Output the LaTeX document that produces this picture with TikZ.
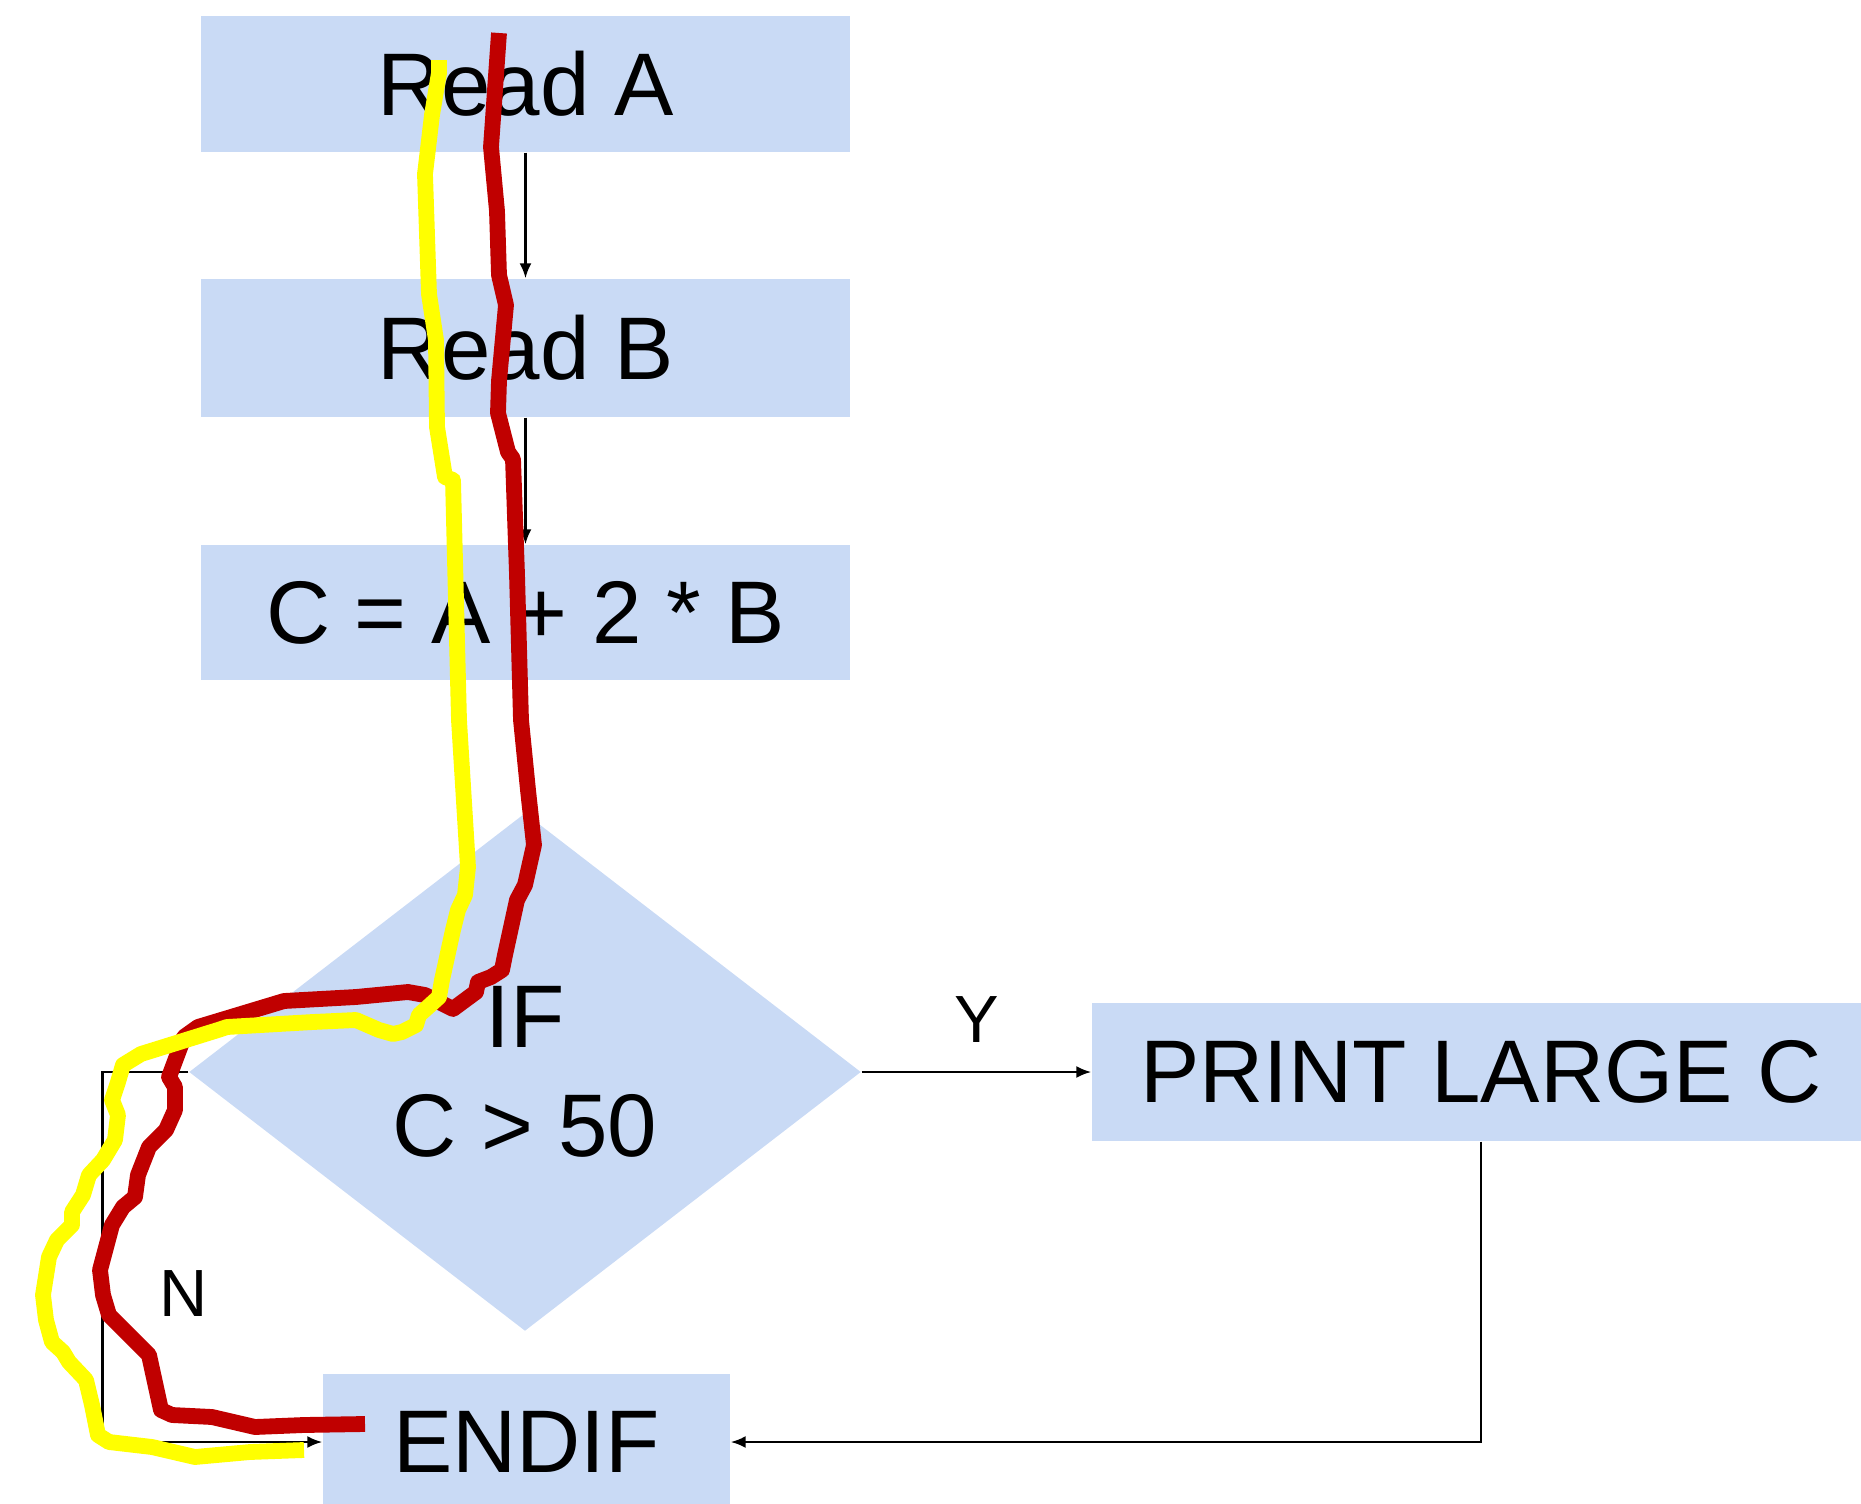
\documentclass[tikz,border=0pt]{standalone}
\usepackage{fontspec}
\setmainfont{Liberation Sans}
\usetikzlibrary{shapes.geometric,arrows.meta}
\definecolor{boxblue}{RGB}{201,218,245}
\definecolor{penred}{RGB}{192,0,0}
\definecolor{penyellow}{RGB}{255,255,0}
\begin{document}
\begin{tikzpicture}[x=1cm,y=1cm,
  stepbox/.style={fill=boxblue, inner sep=0pt, font=\fontsize{25.3}{31}\selectfont},
  testbox/.style={diamond, fill=boxblue, inner sep=0pt, minimum width=6.72cm,
    minimum height=5.18cm, align=center, font=\fontsize{25.3}{31}\selectfont},
  flow/.style={line width=0.7pt, -{Latex[length=0.15cm,width=0.12cm]}},
  yesno/.style={font=\fontsize{19}{22}\selectfont},
  pen/.style={line width=4.5pt, line join=round}]
\useasboundingbox (0,0) rectangle (18.61,-15.04);
\node[stepbox, minimum width=6.49cm, minimum height=1.36cm] (readA) at (5.255,-0.84) {Read A};
\node[stepbox, minimum width=6.49cm, minimum height=1.38cm] (readB) at (5.255,-3.48) {Read B};
\node[stepbox, minimum width=6.49cm, minimum height=1.35cm] (calcC) at (5.255,-6.125) {C = A + 2 * B};
\node[testbox] (test) at (5.25,-10.72) {IF\\C {>} 50};
\node[stepbox, minimum width=7.78cm, minimum height=1.38cm] (printC) at (14.81,-10.72) {PRINT LARGE C};
\node[stepbox, minimum width=4.07cm, minimum height=1.36cm] (endif) at (5.265,-14.42) {ENDIF};
\draw[flow] (readA) -- (readB);
\draw[flow] (readB) -- (calcC);
\draw[flow] (test) -- node[yesno, yshift=0.52cm] (lblY) {Y} (printC);
\draw[flow] (test.west) -- ++(-0.86,0) |- node[yesno, pos=0.3, xshift=0.81cm] (lblN) {N} (endif.west);
\draw[flow] (printC.south) |- (endif.east);
\draw[pen, penred] (4.99,-0.33) -- (4.91,-1.47) -- (4.97,-2.11) -- (4.99,-2.75) -- (5.06,-3.05)
  -- (4.99,-3.81) -- (4.98,-4.13) -- (5.08,-4.52) -- (5.13,-4.59) -- (5.17,-5.74) -- (5.21,-7.20)
  -- (5.28,-7.90) -- (5.34,-8.45) -- (5.25,-8.85) -- (5.17,-9.00) -- (5.05,-9.55) -- (5.02,-9.70)
  -- (4.91,-9.77) -- (4.78,-9.82) -- (4.76,-9.92) -- (4.53,-10.09) -- (4.25,-9.95) -- (4.08,-9.92)
  -- (3.56,-9.97) -- (2.84,-10.01) -- (1.98,-10.27) -- (1.84,-10.37) -- (1.69,-10.77) -- (1.75,-10.87)
  -- (1.75,-11.10) -- (1.66,-11.30) -- (1.49,-11.47) -- (1.38,-11.75) -- (1.35,-11.97) -- (1.23,-12.07)
  -- (1.12,-12.25) -- (1.00,-12.70) -- (1.03,-12.95) -- (1.09,-13.15) -- (1.21,-13.27) -- (1.49,-13.55)
  -- (1.61,-14.10) -- (1.72,-14.15) -- (2.12,-14.17) -- (2.55,-14.27) -- (3.04,-14.25) -- (3.65,-14.24);
\draw[pen, penyellow] (4.39,-0.60) -- (4.39,-0.73) -- (4.32,-1.15) -- (4.25,-1.74) -- (4.29,-2.94)
  -- (4.36,-3.40) -- (4.37,-4.27) -- (4.45,-4.77) -- (4.53,-4.80) -- (4.59,-7.20) -- (4.68,-8.67)
  -- (4.65,-8.95) -- (4.58,-9.10) -- (4.53,-9.30) -- (4.42,-9.80) -- (4.39,-9.97) -- (4.28,-10.07)
  -- (4.19,-10.15) -- (4.16,-10.25) -- (4.02,-10.32) -- (3.93,-10.34) -- (3.79,-10.30) -- (3.56,-10.20)
  -- (3.13,-10.22) -- (2.27,-10.27) -- (2.18,-10.30) -- (1.41,-10.54) -- (1.23,-10.65) -- (1.18,-10.82)
  -- (1.12,-11.00) -- (1.18,-11.15) -- (1.15,-11.40) -- (1.03,-11.60) -- (0.89,-11.75) -- (0.83,-11.95)
  -- (0.72,-12.12) -- (0.72,-12.25) -- (0.57,-12.40) -- (0.49,-12.57) -- (0.43,-12.95) -- (0.46,-13.20)
  -- (0.52,-13.42) -- (0.63,-13.52) -- (0.69,-13.62) -- (0.86,-13.80) -- (0.92,-14.05) -- (0.98,-14.35)
  -- (1.09,-14.42) -- (1.52,-14.47) -- (1.95,-14.57) -- (2.50,-14.52) -- (3.04,-14.50);
\end{tikzpicture}
\end{document}
